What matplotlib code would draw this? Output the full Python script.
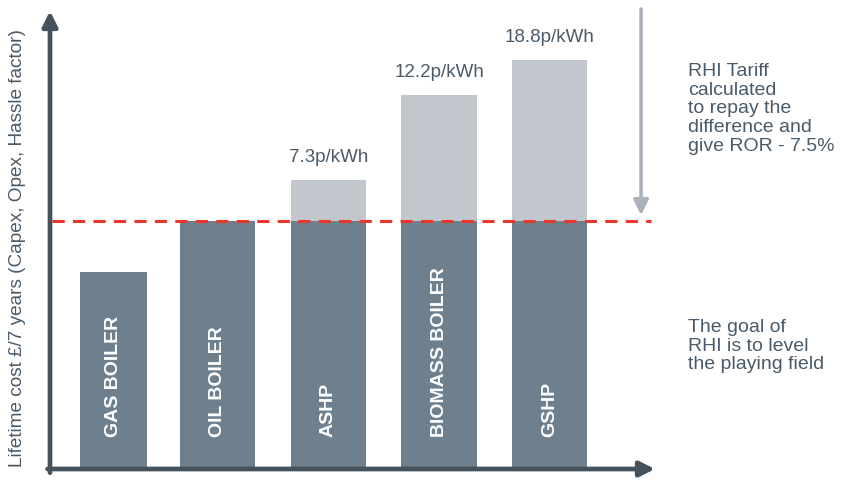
import numpy as np
import matplotlib.pyplot as plt

plt.rcParams['font.family'] = ['Liberation Sans', 'DejaVu Sans']

# values (arbitrary cost units)
systems = ['GAS BOILER', 'OIL BOILER', 'ASHP', 'BIOMASS BOILER', 'GSHP']
base_cost = [48.2, 60.6, 60.6, 60.6, 60.6]
tariff_gap = [0, 0, 10.0, 30.8, 39.4]
tariff_labels = ['', '', '7.3p/kWh', '12.2p/kWh', '18.8p/kWh']
ylabel = 'Lifetime cost £/7 years (Capex, Opex, Hassle factor)'
note_top = 'RHI Tariff\ncalculated\nto repay the\ndifference and\ngive ROR - 7.5%'
note_bottom = 'The goal of\nRHI is to level\nthe playing field'

dark = '#6e7f8d'
light = '#c2c6cd'
txt = '#4a5a68'
axis_col = '#44525e'
red = '#e8382b'
grey_arrow = '#aab1b9'

fig = plt.figure(figsize=(8.51, 4.85), dpi=100)
ax = fig.add_axes([50 / 851, 15 / 485, 605 / 851, 458 / 485])
ax.set_xlim(-0.583, 4.968)
ax.set_ylim(0, 112)
ax.axis('off')

x = np.arange(len(systems)) * 1.015
x[1:] -= 0.058
widths = [0.615, 0.69, 0.69, 0.69, 0.69]
ax.bar(x, base_cost, width=widths, color=dark, zorder=2)
ax.bar(x, tariff_gap, bottom=base_cost, width=widths, color=light, zorder=2)

for xi, name in zip(x, systems):
    ax.text(xi, 8, name, rotation=90, ha='center', va='bottom', color='white',
            fontsize=14, fontweight='bold', zorder=3)

for xi, b, g, lab in zip(x, base_cost, tariff_gap, tariff_labels):
    if lab:
        ax.annotate(lab, (xi, b + g), xytext=(0, 17), textcoords='offset points',
                    ha='center', va='center', color=txt, fontsize=13.5)

# level playing field line
level = base_cost[1]
ax.plot([-0.565, 4.93], [level, level], color=red, lw=2.2,
        linestyle=(0, (4, 2.7)), zorder=4, clip_on=False)

# axes arrows
ax.annotate('', xy=(0, 1.0), xytext=(0, -0.008), xycoords='axes fraction',
            arrowprops=dict(arrowstyle='-|>,head_length=0.9,head_width=0.45',
                            color=axis_col, lw=3.4, shrinkA=0, shrinkB=0))
ax.annotate('', xy=(1.0, 0), xytext=(-0.004, 0), xycoords='axes fraction',
            arrowprops=dict(arrowstyle='-|>,head_length=0.9,head_width=0.45',
                            color=axis_col, lw=3.4, shrinkA=0, shrinkB=0))

# tariff arrow
ax.annotate('', xy=(4.84, level + 1.5), xytext=(4.84, 112.5), xycoords='data',
            arrowprops=dict(arrowstyle='-|>,head_length=0.9,head_width=0.45',
                            color=grey_arrow, lw=2.5, shrinkA=0, shrinkB=0),
            annotation_clip=False)

fig.text(18 / 851, 1 - 248 / 485, ylabel, rotation=90, ha='center', va='center',
         color=txt, fontsize=13.7)
fig.text(688 / 851, 1 - 63 / 485, note_top, ha='left', va='top', color=txt,
         fontsize=14, linespacing=1.13)
fig.text(688 / 851, 1 - 319 / 485, note_bottom, ha='left', va='top', color=txt,
         fontsize=14, linespacing=1.13)

fig.savefig('out.png', dpi=100, facecolor='white')
